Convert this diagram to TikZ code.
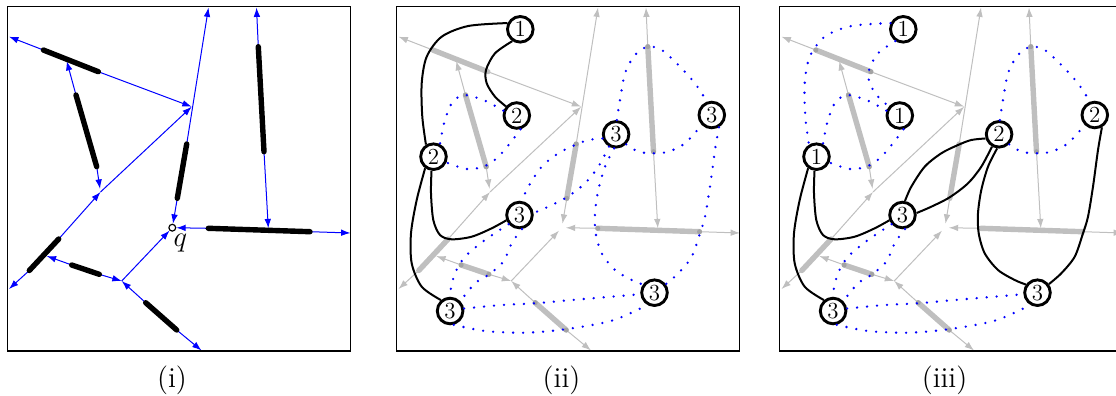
\RequirePackage{fix-cm}
\documentclass[tikz,border=0pt]{standalone}
\usepackage{fontspec}
\usetikzlibrary{arrows.meta}

\tikzset{
  frame/.style={line width=0.65pt},
  wall/.style={line width=2.7pt, line cap=round},
  ray/.style={line width=0.5pt, -{Latex[length=4.7pt,width=3.3pt]}},
  qspot/.style={circle, inner sep=0pt, minimum size=3.6pt},
  vtx/.style={circle, draw, line width=1.45pt, fill=white, inner sep=0pt,
    minimum size=12.8pt, font=\fontsize{11.5}{12}\selectfont},
  solidedge/.style={line width=1pt},
  dotedge/.style={blue, line width=1.3pt, line cap=round, dash pattern=on 0pt off 5pt},
  enddot/.style={gray!72},
  caption/.style={font=\fontsize{14.4}{16}\selectfont},
}

% the segments with the rays sent out from their end points
\newcommand{\scenery}[3]{%
  \coordinate (#1a1) at (43.3,50);    \coordinate (#1a2) at (98.3,71.7);
  \coordinate (#1b1) at (76,95);      \coordinate (#1b2) at (96.7,166.7);
  \coordinate (#1c1) at (29.3,270.5); \coordinate (#1c2) at (58.7,239);
  \coordinate (#1d1) at (186.7,144);  \coordinate (#1d2) at (177.3,198.3);
  \coordinate (#1e1) at (258.3,46.7); \coordinate (#1e2) at (264,151.7);
  \coordinate (#1f1) at (208.3,228.3);\coordinate (#1f2) at (310,231.7);
  \coordinate (#1g1) at (71.7,265);   \coordinate (#1g2) at (99.3,274.3);
  \coordinate (#1h1) at (145.7,302.7);\coordinate (#1h2) at (176.7,330);
  \coordinate (#1v1) at (191.7,106.7);
  \coordinate (#1v2) at (100.5,192);
  \coordinate (#1v3) at (121.7,281);
  \node[qspot] (#1q) at (172.3,227.7) {};
  \coordinate (#1ta) at (9,36.7);
  \coordinate (#1tb) at (66.7,61);
  \coordinate (#1tc) at (9,289);
  \coordinate (#1td) at (208.5,7.5);
  \coordinate (#1te) at (256.5,7.5);
  \coordinate (#1tf) at (268.3,228.3);
  \coordinate (#1tg) at (350.5,233);
  \coordinate (#1th) at (46.7,256);
  \coordinate (#1ti) at (201.5,350.5);
  \begin{scope}[ray,#3]
    \draw (#1a1) -- (#1ta);
    \draw (#1a2) -- (#1v1);
    \draw (#1b1) -- (#1tb);
    \draw[shorten >=1.6pt] (#1b2) -- (#1v2);
    \draw (#1c1) -- (#1tc);
    \draw (#1c2) -- (#1v2);
    \draw (#1v2) -- (#1v1);
    \draw (#1d1) -- (#1td);
    \draw (#1d2) -- (#1q);
    \draw (#1e1) -- (#1te);
    \draw (#1e2) -- (#1tf);
    \draw (#1f1) -- (#1q);
    \draw (#1f2) -- (#1tg);
    \draw (#1g1) -- (#1th);
    \draw (#1g2) -- (#1v3);
    \draw (#1h1) -- (#1v3);
    \draw (#1h2) -- (#1ti);
    \draw (#1v3) -- (#1q);
  \end{scope}
  \begin{scope}[wall,#2]
    \draw (#1a1) -- (#1a2);
    \draw (#1b1) -- (#1b2);
    \draw (#1c1) -- (#1c2);
    \draw (#1d1) -- (#1d2);
    \draw (#1e1) -- (#1e2);
    \draw (#1f1) -- (#1f2);
    \draw (#1g1) -- (#1g2);
    \draw (#1h1) -- (#1h2);
  \end{scope}
}

% the eight numbered vertices
\newcommand{\vertices}[9]{%
  \node[vtx] (#1top) at (130.8,29.3) {#2};
  \node[vtx] (#1up)  at (127.3,115.5) {#3};
  \node[vtx] (#1lf)  at (44,156.7) {#4};
  \node[vtx] (#1md)  at (130,215) {#5};
  \node[vtx] (#1um)  at (226.6,134.3) {#6};
  \node[vtx] (#1rt)  at (322.3,115) {#7};
  \node[vtx] (#1lr)  at (265,292.7) {#8};
  \node[vtx] (#1bl)  at (60.6,311) {#9};
}

% the edges between the vertices; each argument is the style of one group
\newcommand{\edges}[8]{%
  \draw[#2] plot[smooth] coordinates {(#1top.154) (78.8,26) (52.2,36.7) (37.2,56.7) (32.2,83.3) (32.8,116.7) (#1lf.122)};
  \draw[#2] plot[smooth] coordinates {(#1top.236) (105.5,53.3) (96.5,70) (97.2,83.3) (105.5,96.7) (#1up.140)};
  \draw[#3] plot[smooth] coordinates {(#1up.160) (93.8,100) (73.8,95) (62.2,103.3) (55.5,120) (52,135) (#1lf.63)};
  \draw[#3] plot[smooth] coordinates {(#1up.285) (120.5,143.3) (107.2,158.3) (93.8,166.7) (77.2,169) (#1lf.-24)};
  \draw[#4] plot[smooth] coordinates {(#1lf.262) (41.5,193.3) (43.8,220) (50.5,235) (62.2,239.3) (82.2,236.7) (102.2,228.3) (#1md.202)};
  \draw[#4] plot[smooth] coordinates {(#1lf.234) (27.2,200) (21.5,233.3) (22.2,263.3) (32.2,286.7) (#1bl.130)};
  \draw[#5] plot[smooth] coordinates {(#1md.220) (95.5,240) (75.5,256.7) (65.5,273.3) (61.5,288) (#1bl.95)};
  \draw[#5] plot[smooth] coordinates {(#1md.280) (122.2,243.3) (113.8,261.7) (98.8,275) (85.5,283.3) (#1bl.44)};
  \draw[#6] plot[smooth] coordinates {(#1bl.10) (112.2,305) (145.5,303.3) (182.2,300) (222.2,296.7) (#1lr.186)};
  \draw[#6] plot[smooth] coordinates {(#1bl.285) (95.5,331) (135.5,332.7) (175.5,329.3) (222.2,320.7) (#1lr.240)};
  \draw[#7] plot[smooth] coordinates {(#1um.197) (198.8,140) (185.5,145) (168.8,153.3) (152.2,166.7) (138.8,186.7) (#1md.80)};
  \draw[#7] plot[smooth] coordinates {(#1um.240) (208.8,166.7) (195.5,183.3) (177.2,197.3) (158.8,206.7) (#1md.8)};
  \draw[#7] plot[smooth] coordinates {(#1um.262) (215.5,166.7) (208.8,190) (205.5,213.3) (206.2,233.3) (212.2,253.3) (225.5,270) (242.2,280) (#1lr.145)};
  \draw[#7] plot[smooth] coordinates {(#1rt.-60) (325.5,150) (320.5,186.7) (315.5,216.7) (310.5,233.3) (302.2,256.7) (288.8,273.3) (#1lr.37)};
  \draw[#8] plot[smooth] coordinates {(#1um.87) (230.5,100) (235.5,73.3) (245.5,55) (258.2,46.7) (272.2,50) (288.8,65) (305.5,83.3) (#1rt.110)};
  \draw[#8] plot[smooth] coordinates {(#1um.-45) (248.8,151.7) (263.2,153.3) (278.8,151.7) (295.5,143.3) (#1rt.225)};
}

\begin{document}
\begin{tikzpicture}[x=0.5pt,y=-0.5pt]
\useasboundingbox (0,0) rectangle (1116,396);
\clip (0,0) rectangle (1116,396);

% (i)
\begin{scope}
  \scenery{i}{black}{blue}
  \draw[frame] (7.3,6.7) rectangle (350.7,351);
  \draw[line width=0.6pt, fill=white] (iq) circle[radius=3.4];
  \node[caption] at (180.5,243) {$q$};
  \node[caption] (capi) at (172,380) {(i)};
\end{scope}

% (ii)
\begin{scope}[xshift=194.75pt]
  \scenery{ii}{gray!50}{gray!50}
  \draw[frame] (7,6.7) rectangle (350,351);
  \foreach \p in {b1,b2,d1,d2,e1,e2,f1,f2,g1,g2,h1,h2}
    \fill[enddot] (ii\p) circle[radius=2.5];
  \vertices{ii}{1}{2}{2}{3}{3}{3}{3}{3}
  \edges{ii}{solidedge}{dotedge}{solidedge}{dotedge}{dotedge}{dotedge}{dotedge}
  \node[caption] (capii) at (172,380) {(ii)};
\end{scope}

% (iii)
\begin{scope}[xshift=386.25pt]
  \scenery{iii}{gray!50}{gray!50}
  \draw[frame] (7,6.7) rectangle (350,351);
  \foreach \p in {a1,a2,b1,b2,e1,e2,g1,g2,h1,h2}
    \fill[enddot] (iii\p) circle[radius=2.5];
  \vertices{iii}{1}{1}{1}{3}{2}{2}{3}{3}
  \edges{iii}{dotedge}{dotedge}{solidedge}{dotedge}{dotedge}{solidedge}{dotedge}
  \node[caption] (capiii) at (172,380) {(iii)};
\end{scope}
\end{tikzpicture}
\end{document}
